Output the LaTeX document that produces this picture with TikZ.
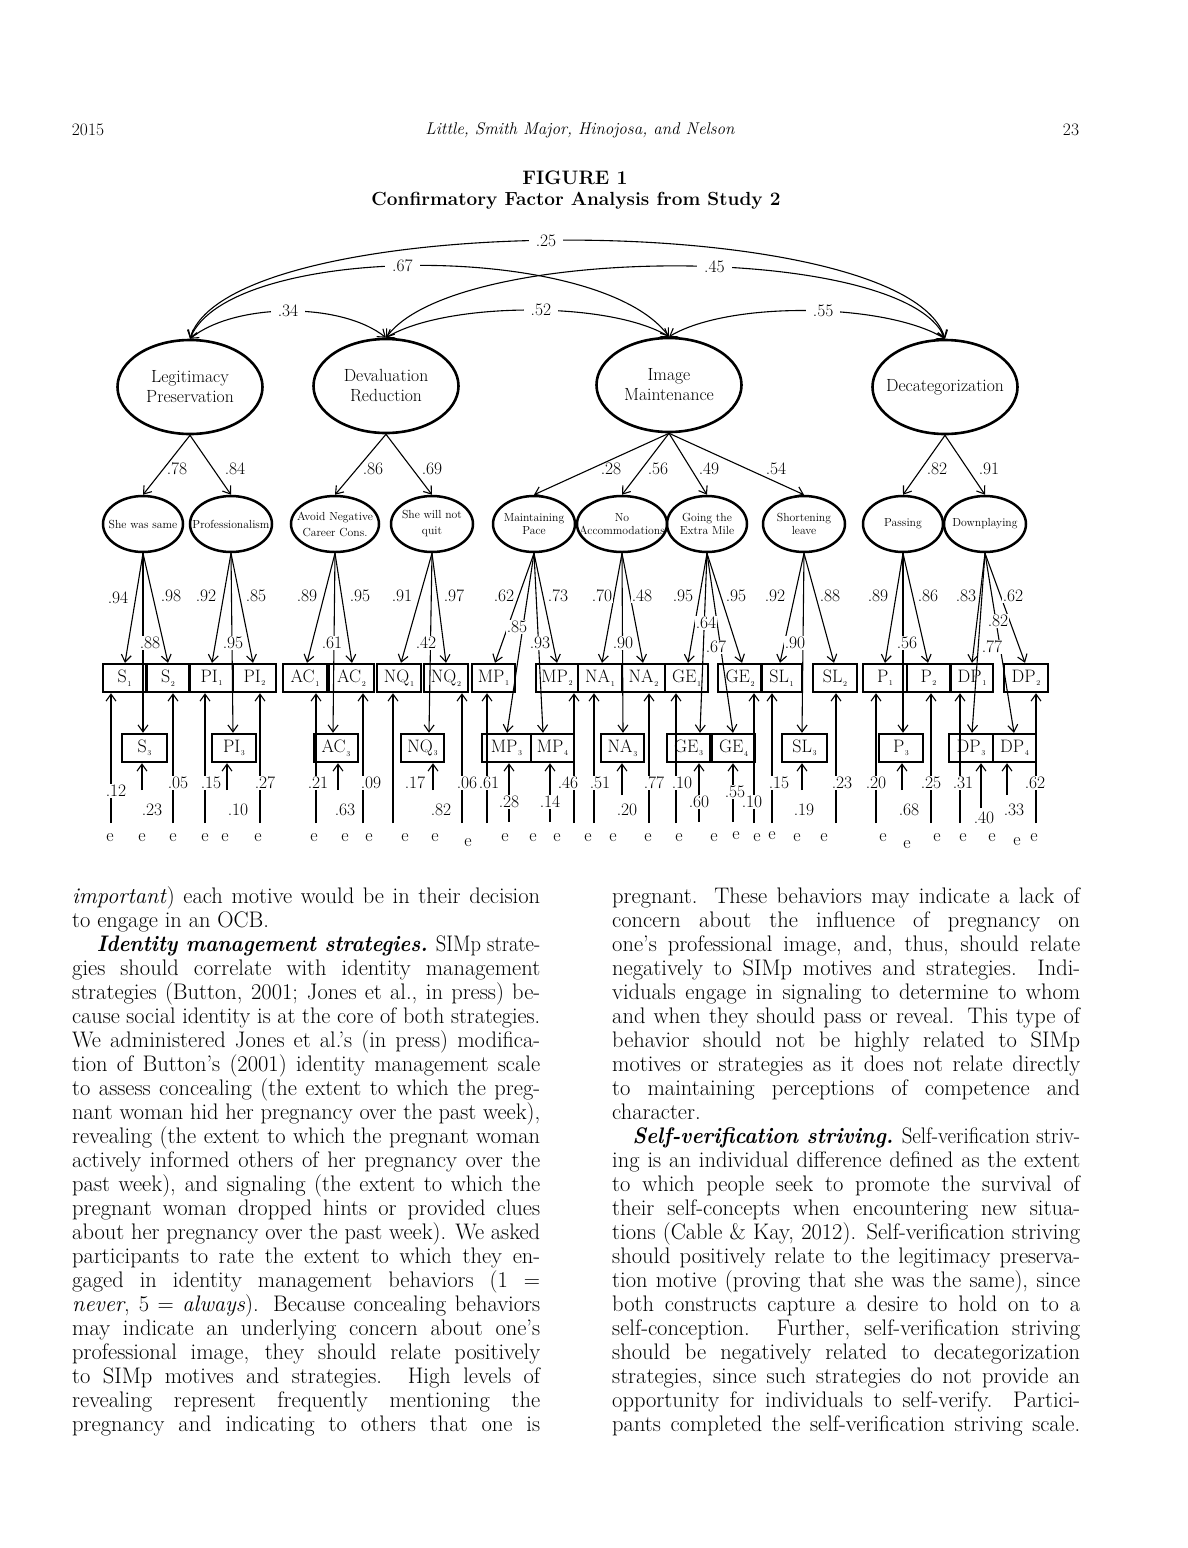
\documentclass[tikz,border=0pt]{standalone}
\usepackage{graphicx}
\usetikzlibrary{shapes.geometric,arrows.meta}
\newsavebox\jlbox
\newlength\colw
\setlength\colw{468pt}
\newcommand\jl[1]{\sbox\jlbox{#1}\ifdim\wd\jlbox>\colw\resizebox{\colw}{\height}{#1}\else\makebox[\colw][s]{#1}\fi}
\newcommand\myind[2]{#1\kern0.6pt\raisebox{-3.5pt}{\fontsize{7.5}{7.5}\selectfont #2}}
\begin{document}
\begin{tikzpicture}[x=1pt,y=-1pt,
 >={Straight Barb[length=7pt,width=10pt]},
 bigf/.style={ellipse,draw,line width=2.6pt,minimum width=145pt,minimum height=94pt,inner sep=0pt},
 bigt/.style={align=center,inner sep=0pt,font=\fontsize{17.6}{20}\selectfont},
 smallf/.style={ellipse,draw,line width=2.5pt,minimum height=56pt,inner sep=0pt},
 smallt/.style={align=center,inner sep=0pt,font=\fontsize{11.7}{13.5}\selectfont},
 ind/.style={draw,line width=2.4pt,minimum height=28pt,inner sep=0pt,font=\fontsize{18}{18}\selectfont},
 lab/.style={fill=white,inner sep=1pt,font=\fontsize{17.5}{17.5}\selectfont},
 labc/.style={fill=white,inner xsep=7pt,inner ysep=1pt,font=\fontsize{17.5}{17.5}\selectfont},
 labn/.style={inner sep=1pt,font=\fontsize{17.5}{17.5}\selectfont},
 arr/.style={->,line width=1.1pt},
 cor/.style={<->,line width=1.1pt},
 enode/.style={inner sep=0pt,font=\fontsize{18}{18}\selectfont},
 bodyt/.style={anchor=base west,inner sep=0pt,font=\fontsize{22.5}{24}\selectfont},
]
\useasboundingbox (0,0) rectangle (1188,1548);
\fill[white] (0,0) rectangle (1188,1548);

% header
\node[inner sep=0pt,font=\fontsize{17.5}{17.5}\selectfont] (hyear) at (88,130) {2015};
\node[inner sep=0pt,font=\fontsize{17}{17}\selectfont\itshape] (hauth) at (580,130) {Little, Smith Major, Hinojosa, and Nelson};
\node[inner sep=0pt,font=\fontsize{17.5}{17.5}\selectfont] (hpage) at (1071,130) {23};
\node[inner sep=0pt,font=\fontsize{19.5}{19.5}\selectfont\bfseries] (tfig) at (575,178) {FIGURE 1};
\node[inner sep=0pt,font=\fontsize{19}{19}\selectfont\bfseries] (ttit) at (576,201) {Confirmatory Factor Analysis from Study 2};

% second-order factors
\node[bigf,label={[bigt]center:{Legitimacy\\Preservation}}] (LP) at (190,387) {};
\node[bigf,label={[bigt]center:{Devaluation\\Reduction}}] (DR) at (386,386) {};
\node[bigf,label={[bigt]center:{Image\\Maintenance}}] (IM) at (669,385) {};
\node[bigf,label={[bigt]center:{Decategorization}}] (DC) at (945,387) {};

% correlations
\draw[cor] (LP.north) .. controls +(40,-131) and +(-40,-131) .. (DC.north) node[labc,pos=0.48] {.25};
\draw[cor] (LP.north) .. controls +(40,-96) and +(-70,-96) .. (IM.north) node[labc,pos=0.475] {.67};
\draw[cor] (DR.north) .. controls +(70,-96) and +(-40,-96) .. (DC.north) node[labc,pos=0.55] {.45};
\draw[cor] (LP.north) .. controls +(45,-36) and +(-45,-36) .. (DR.north) node[labc,pos=0.5] {.34};
\draw[cor] (DR.north) .. controls +(60,-36) and +(-60,-36) .. (IM.north) node[labc,pos=0.54] {.52};
\draw[cor] (IM.north) .. controls +(60,-36) and +(-60,-36) .. (DC.north) node[labc,pos=0.55] {.55};

% first-order factors
\node[smallf,minimum width=80pt,label={[smallt]center:{She was same}}] (SS) at (143,524) {};
\node[smallf,minimum width=82pt,label={[smallt]center:{Professionalism}}] (PR) at (231,524) {};
\node[smallf,minimum width=88pt,label={[smallt,font=\fontsize{11.7}{16}\selectfont]center:{Avoid Negative\\Career Cons.}}] (AN) at (335,524) {};
\node[smallf,minimum width=82pt,label={[smallt,font=\fontsize{11.7}{16}\selectfont]center:{She will not\\quit}}] (NQ) at (432,524) {};
\node[smallf,minimum width=82pt,label={[smallt]center:{Maintaining\\Pace}}] (MP) at (534,524) {};
\node[smallf,minimum width=90pt,label={[smallt]center:{No\\Accommodations}}] (NA) at (622,524) {};
\node[smallf,minimum width=80pt,label={[smallt]center:{Going the\\Extra Mile}}] (GE) at (707,524) {};
\node[smallf,minimum width=82pt,label={[smallt]center:{Shortening\\leave}}] (SL) at (804,524) {};
\node[smallf,minimum width=80pt,label={[smallt]center:{Passing}}] (PA) at (903,524) {};
\node[smallf,minimum width=82pt,label={[smallt]center:{Downplaying}}] (DW) at (985,524) {};

% second-order loadings
\draw[arr] (LP.south) -- (SS.north);
\draw[arr] (LP.south) -- (PR.north);
\draw[arr] (DR.south) -- (AN.north);
\draw[arr] (DR.south) -- (NQ.north);
\draw[arr] (IM.south) -- (MP.north);
\draw[arr] (IM.south) -- (NA.north);
\draw[arr] (IM.south) -- (GE.north);
\draw[arr] (IM.south) -- (SL.north);
\draw[arr] (DC.south) -- (PA.north);
\draw[arr] (DC.south) -- (DW.north);
\foreach \x/\y/\v in {177/469/.78,235/469/.84,373/469/.86,432/469/.69,611/469/.28,658/469/.56,709/469/.49,776/469/.54,937/469/.82,989/469/.91}
  \node[labn] at (\x,\y) {\v};

% indicators, top row
\foreach \n/\a/\b/\x/\w in {S1/S/1/124.5/43,S2/S/2/168/42,PI1/PI/1/211.5/43,PI2/PI/2/254.5/43,AC1/AC/1/305/44,AC2/AC/2/351.5/45,NQ1/NQ/1/399/44,NQ2/NQ/2/446/44,MP1/MP/1/493.5/43,MP2/MP/2/557/42,NA1/NA/1/600/44,NA2/NA/2/643.5/43,GE1/GE/1/686.5/43,GE2/GE/2/740/44,SL1/SL/1/781.5/41,SL2/SL/2/835/44,P1/P/1/885/44,P2/P/2/928.5/43,DP1/DP/1/972/42,DP2/DP/2/1026/44}
  \node[ind,minimum width=\w pt] (\n) at (\x,678) {\myind{\a}{\b}};
% indicators, second row
\foreach \n/\a/\b/\x/\w in {S3/S/3/144.5/45,PI3/PI/3/234/44,AC3/AC/3/336/44,NQ3/NQ/3/422.5/43,MP3/MP/3/506.5/49,MP4/MP/4/552.5/43,NA3/NA/3/622.5/43,GE3/GE/3/688.5/43,GE4/GE/4/733.5/43,SL3/SL/3/804.5/45,P3/P/3/901/44,DP3/DP/3/971/44,DP4/DP/4/1014.5/43}
  \node[ind,minimum width=\w pt] (\n) at (\x,748) {\myind{\a}{\b}};

% first-order loadings
\foreach \f/\b/\x in {SS/S1/125,SS/S2/168,SS/S3/143,PR/PI1/212,PR/PI2/253,PR/PI3/233,AN/AC1/307,AN/AC2/352,AN/AC3/333,NQ/NQ1/401,NQ/NQ2/446,NQ/NQ3/429,MP/MP1/495,MP/MP2/557,MP/MP3/507,MP/MP4/543,NA/NA1/602,NA/NA2/643,NA/NA3/623,GE/GE1/688,GE/GE2/742,GE/GE3/700,GE/GE4/733,SL/SL1/780,SL/SL2/834,SL/SL3/802,PA/P1/885,PA/P2/928,PA/P3/903,DW/DP1/972,DW/DP2/1025,DW/DP3/972,DW/DP4/1014}
  \draw[arr] (\f.south) -- (\x,0 |- \b.north);
\foreach \x/\y/\v in {118/598/.94,171/596/.98,150/643/.88,206/596/.92,256/596/.85,233/643/.95,307/596/.89,360/596/.95,332/643/.61,402/596/.91,454/596/.97,426/643/.42,504/596/.62,517/627/.85,540/643/.93,558/596/.73,602/596/.70,642/596/.48,623/643/.90,683/596/.95,736/596/.95,706/623/.64,716/647/.67,775/596/.92,830/596/.88,795/643/.90,878/596/.89,928/596/.86,907/643/.56,966/596/.83,1013/596/.62,992/647/.77,998/621/.82}
  \node[lab] at (\x,\y) {\v};

% error terms
\foreach \b/\x in {S1/111,S2/173,PI1/205,PI2/260,AC1/316,AC2/363,NQ1/393,NQ2/462,MP1/487,MP2/574,NA1/594,NA2/649,GE1/676,GE2/754,SL1/772,SL2/836,P1/876,P2/931,DP1/960,DP2/1036}
  \draw[arr] (\x,823) -- (\x,0 |- \b.south);
\foreach \b/\x/\s in {S3/142/790,PI3/227/790,AC3/338/790,NQ3/433/790,MP3/509/822,MP4/550/822,NA3/622/795,GE3/699/822,GE4/733/822,SL3/802/790,P3/902/790,DP3/981/808,DP4/1007/795}
  \draw[arr] (\x,\s) -- (\x,0 |- \b.south);
\foreach \x/\y/\v in {116/791/.12,178/783/.05,211/783/.15,265/783/.27,318/783/.21,371/783/.09,415/783/.17,467/783/.06,489/783/.61,568/783/.46,600/783/.51,654/783/.77,682/783/.10,752/802/.10,779/783/.15,842/783/.23,876/783/.20,931/783/.25,963/783/.31,1035/783/.62,152/810/.23,238/810/.10,345/810/.63,441/810/.82,509/802/.28,550/802/.14,627/810/.20,699/802/.60,735/792/.55,804/810/.19,909/810/.68,984/818/.40,1014/810/.33}
  \node[lab] at (\x,\y) {\v};
\foreach \x/\y [count=\i] in {110/838,142/838,173/838,205/838,225/838,258/838,314/838,345/838,369/838,405/838,435/838,468/843,505/838,533/838,557/838,588/838,613/838,648/838,679/838,714/838,736/836,757/838,772/836,797/838,824/838,883/838,907/845,937/838,963/838,992/838,1017/842,1034/838}
  \node[enode] (e\i) at (\x,\y) {e};

% body text, left column
\node[bodyt] (colL) at (72,903) {\vtop{\baselineskip=24pt\lineskiplimit=-100pt
\hbox{\jl{\textit{important}) each motive would be in their decision}}
\hbox{to engage in an OCB.}
\hbox{\jl{\hspace*{27pt}\textbf{\textit{Identity management strategies.}} SIMp strate-}}
\hbox{\jl{gies should correlate with identity management}}
\hbox{\jl{strategies (Button, 2001; Jones et al., in press) be-}}
\hbox{\jl{cause social identity is at the core of both strategies.}}
\hbox{\jl{We administered Jones et al.’s (in press) modifica-}}
\hbox{\jl{tion of Button’s (2001) identity management scale}}
\hbox{\jl{to assess concealing (the extent to which the preg-}}
\hbox{\jl{nant woman hid her pregnancy over the past week),}}
\hbox{\jl{revealing (the extent to which the pregnant woman}}
\hbox{\jl{actively informed others of her pregnancy over the}}
\hbox{\jl{past week), and signaling (the extent to which the}}
\hbox{\jl{pregnant woman dropped hints or provided clues}}
\hbox{\jl{about her pregnancy over the past week). We asked}}
\hbox{\jl{participants to rate the extent to which they en-}}
\hbox{\jl{gaged in identity management behaviors (1 =}}
\hbox{\jl{\textit{never}, 5 = \textit{always}). Because concealing behaviors}}
\hbox{\jl{may indicate an underlying concern about one’s}}
\hbox{\jl{professional image, they should relate positively}}
\hbox{\jl{to SIMp motives and strategies. High levels of}}
\hbox{\jl{revealing represent frequently mentioning the}}
\hbox{\jl{pregnancy and indicating to others that one is}}
}};

% body text, right column
\node[bodyt] (colR) at (612,903) {\vtop{\baselineskip=24pt\lineskiplimit=-100pt
\hbox{\jl{pregnant. These behaviors may indicate a lack of}}
\hbox{\jl{concern about the influence of pregnancy on}}
\hbox{\jl{one’s professional image, and, thus, should relate}}
\hbox{\jl{negatively to SIMp motives and strategies. Indi-}}
\hbox{\jl{viduals engage in signaling to determine to whom}}
\hbox{\jl{and when they should pass or reveal. This type of}}
\hbox{\jl{behavior should not be highly related to SIMp}}
\hbox{\jl{motives or strategies as it does not relate directly}}
\hbox{\jl{to maintaining perceptions of competence and}}
\hbox{character.}
\hbox{\jl{\hspace*{22pt}\textbf{\textit{Self-verification striving.}} Self-verification striv-}}
\hbox{\jl{ing is an individual difference defined as the extent}}
\hbox{\jl{to which people seek to promote the survival of}}
\hbox{\jl{their self-concepts when encountering new situa-}}
\hbox{\jl{tions (Cable \& Kay, 2012). Self-verification striving}}
\hbox{\jl{should positively relate to the legitimacy preserva-}}
\hbox{\jl{tion motive (proving that she was the same), since}}
\hbox{\jl{both constructs capture a desire to hold on to a}}
\hbox{\jl{self-conception. Further, self-verification striving}}
\hbox{\jl{should be negatively related to decategorization}}
\hbox{\jl{strategies, since such strategies do not provide an}}
\hbox{\jl{opportunity for individuals to self-verify. Partici-}}
\hbox{\jl{pants completed the self-verification striving scale.}}
}};
\end{tikzpicture}
\end{document}
